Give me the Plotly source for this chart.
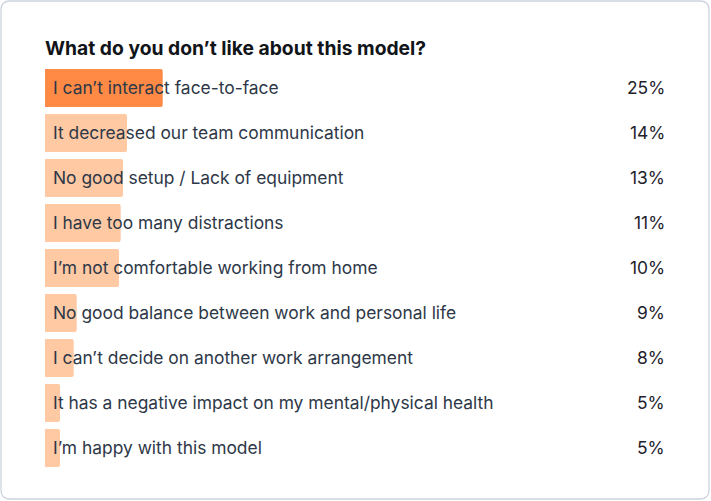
import plotly.graph_objects as go

# risposte e percentuali
answers = [
    "I can’t interact face-to-face",
    "It decreased our team communication",
    "No good setup / Lack of equipment",
    "I have too many distractions",
    "I’m not comfortable working from home",
    "No good balance between work and personal life",
    "I can’t decide on another work arrangement",
    "It has a negative impact on my mental/physical health",
    "I’m happy with this model",
]
percent_labels = ["25%", "14%", "13%", "11%", "10%", "9%", "8%", "5%", "5%"]
# lunghezza delle barre come appare nel grafico (non proporzionale alle percentuali)
bar_lengths = [117.7, 82, 78, 75.7, 74, 31.7, 28.7, 15, 15]

W, H = 711, 501
LEFT = 45  # inizio delle barre in pixel

colors = ["#FF8A45"] + ["#FFC9A3"] * (len(answers) - 1)

fig = go.Figure(go.Bar(
    x=bar_lengths, y=answers, orientation="h",
    marker=dict(color=colors, line_width=0, cornerradius=2),
    hoverinfo="skip",
))

# etichette a sinistra (sopra le barre) e percentuali a destra
for ans, pct in zip(answers, percent_labels):
    fig.add_annotation(x=0, y=ans, xref="x", yref="y", text=ans, showarrow=False,
                       xanchor="left", xshift=6, yshift=1,
                       font=dict(family="Inter, sans-serif", size=17.4, color="#2E3848"))
    fig.add_annotation(x=667 / W, y=ans, xref="paper", yref="y", text=pct, showarrow=False,
                       xanchor="right", yshift=1,
                       font=dict(family="Inter, sans-serif", size=17.4, color="#1E222B"))

# bordo della card con angoli arrotondati (in pixel convertiti)
def px_x(p):
    return p - LEFT

def px_y(p):
    return 1 - p / H

x0, y0, x1, y1, r = 1, 1, 709, 499, 9
path = (
    f"M {px_x(x0 + r)} {px_y(y0)} L {px_x(x1 - r)} {px_y(y0)} "
    f"Q {px_x(x1)} {px_y(y0)} {px_x(x1)} {px_y(y0 + r)} "
    f"L {px_x(x1)} {px_y(y1 - r)} Q {px_x(x1)} {px_y(y1)} {px_x(x1 - r)} {px_y(y1)} "
    f"L {px_x(x0 + r)} {px_y(y1)} Q {px_x(x0)} {px_y(y1)} {px_x(x0)} {px_y(y1 - r)} "
    f"L {px_x(x0)} {px_y(y0 + r)} Q {px_x(x0)} {px_y(y0)} {px_x(x0 + r)} {px_y(y0)} Z"
)
fig.add_shape(type="path", path=path, xref="x", yref="paper",
              line=dict(color="#CDD4DE", width=1.3), layer="below")

fig.update_layout(
    width=W, height=H,
    margin=dict(l=0, r=0, t=0, b=0),
    paper_bgcolor="white", plot_bgcolor="white",
    showlegend=False, bargap=7 / 45,
    title=dict(text="<b>What do you don’t like about this model?</b>",
               x=LEFT / W, xanchor="left", y=1 - 48 / H, yanchor="middle",
               font=dict(family="Inter, sans-serif", size=19.3, color="#111418")),
    xaxis=dict(range=[-LEFT, W - LEFT], visible=False, fixedrange=True),
    yaxis=dict(range=[8.5, -0.5], domain=[1 - 470.5 / H, 1 - 65.5 / H],
               visible=False, fixedrange=True),
)

# niente margine del body, così la figura riempie la finestra
fig.write_html("out.html", config={"displayModeBar": False},
               post_script="document.body.style.margin='0';")
